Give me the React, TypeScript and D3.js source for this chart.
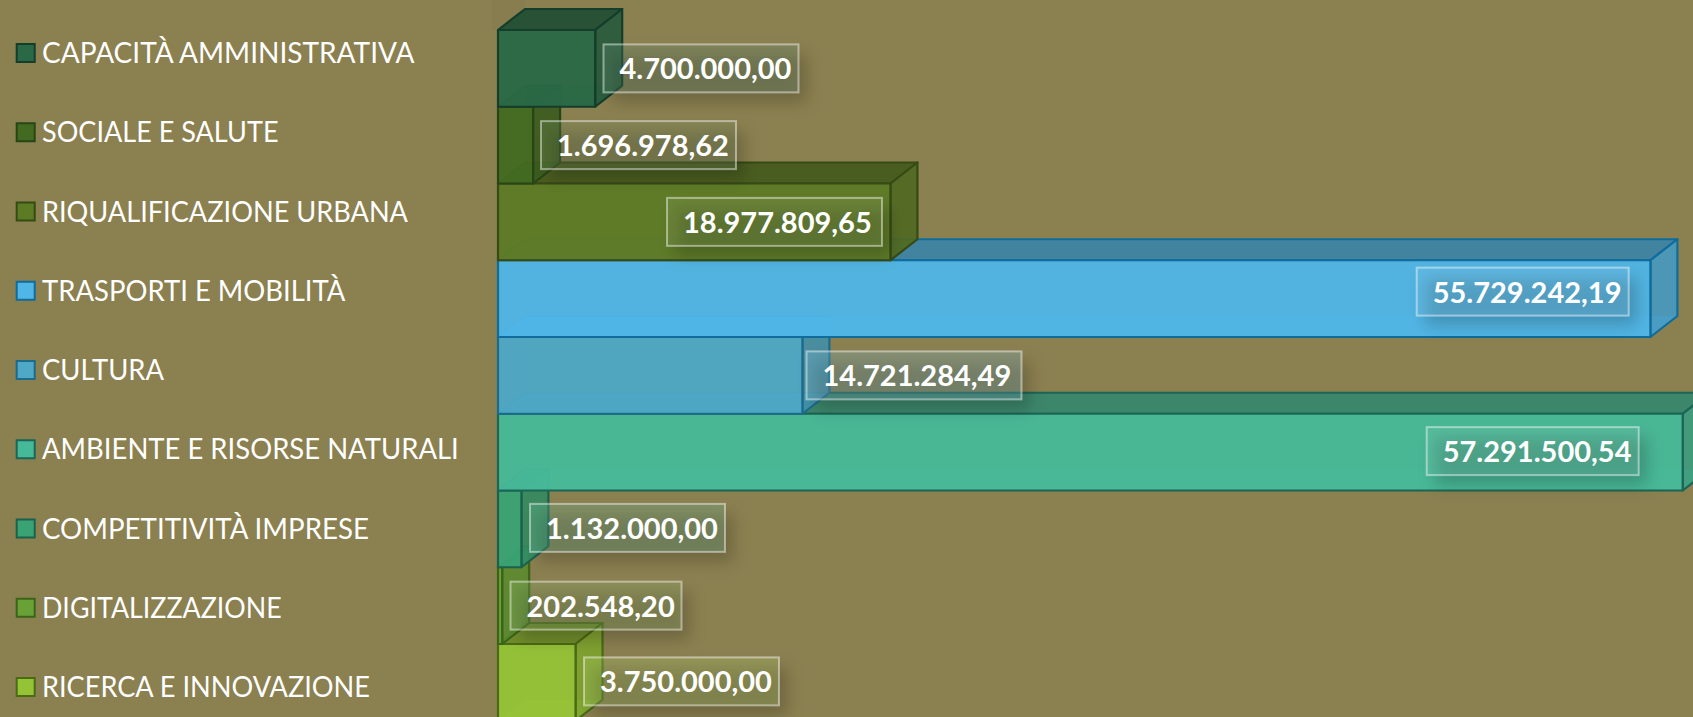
import React from "react";
import * as d3 from "d3";

const categories = ["CAPACITÀ AMMINISTRATIVA","SOCIALE E SALUTE","RIQUALIFICAZIONE URBANA","TRASPORTI E MOBILITÀ","CULTURA","AMBIENTE E RISORSE NATURALI","COMPETITIVITÀ IMPRESE","DIGITALIZZAZIONE","RICERCA E INNOVAZIONE"];
const values = [4700000.00,1696978.62,18977809.65,55729242.19,14721284.49,57291500.54,1132000.00,202548.20,3750000.00];
const valueLabels = ["4.700.000,00","1.696.978,62","18.977.809,65","55.729.242,19","14.721.284,49","57.291.500,54","1.132.000,00","202.548,20","3.750.000,00"];
const colors = ["#296945","#436a21","#5d7b25","#50b6e8","#4ea8c6","#46b998","#39a373","#69a136","#95c336"];
const edges = ["#143d2c","#284516","#364a14","#0f6c9c","#1c6b8c","#1b6656","#1b614c","#3a6419","#4a6a15"];
// manual label box placement and legend text widths
const labelLeft = [603.5,541,667,1416.7,806.5,1426.7,530,510.5,584];
const labelDy = [0,0,0,-7,0,-1,-1,0,-1];
const labelWidth = [195,195,215,212,215,212,195,171,195];
const legendWidth = [372.5,236.5,366,303.4,122,416.8,327,239.7,328];

const W = 1693, H = 717, DX = 27, DY = 21, BG = "#8b8050";
const x = d3.scaleLinear().domain([0, 57291500.54]).range([498, 1682.7]);
const y = d3.scaleBand<string>().domain(categories).range([30, 30 + 76.75 * 9]).padding(0);
const legendY = d3.scalePoint<string>().domain(categories).range([53, 687]);

const poly = (pts: number[][]) => (d3.line()(pts as [number, number][]) || "") + "Z";

function Bar({ i }: { i: number }) {
  const c = categories[i];
  const x0 = x(0), x1 = x(values[i]), y0 = y(c)!, y1 = y0 + y.bandwidth();
  const col = colors[i], edge = edges[i];
  const dark = d3.color(col)!.darker(0.9).formatHex();
  const mid = d3.color(col)!.darker(0.45).formatHex();
  const faces: [string, string, number][] = [
    [poly([[x0+DX,y0-DY],[x1+DX,y0-DY],[x1+DX,y1-DY],[x0+DX,y1-DY]]), dark, 0.2],
    [poly([[x0,y1],[x1,y1],[x1+DX,y1-DY],[x0+DX,y1-DY]]), col, 0.6],
    [poly([[x0,y0],[x0+DX,y0-DY],[x0+DX,y1-DY],[x0,y1]]), col, 0.2],
    [poly([[x0,y0],[x1,y0],[x1+DX,y0-DY],[x0+DX,y0-DY]]), dark, 0.88],
    [poly([[x1,y0],[x1+DX,y0-DY],[x1+DX,y1-DY],[x1,y1]]), mid, 0.85],
    [poly([[x0,y0],[x1,y0],[x1,y1],[x0,y1]]), col, 0.94],
  ];
  return (
    <g>
      {faces.map(([d, f, o], k) => (
        <path key={k} d={d} fill={f} fillOpacity={o} stroke={edge} strokeWidth={k < 3 ? 0 : 2.2} strokeLinejoin="round" />
      ))}
    </g>
  );
}

function Label({ i }: { i: number }) {
  const c = y(categories[i])! + y.bandwidth() / 2 + labelDy[i];
  const bx = labelLeft[i], bw = labelWidth[i], bh = 48, by = c - bh / 2;
  return (
    <g>
      <rect x={bx + 8} y={by + 10} width={bw} height={bh} fill="#000" fillOpacity={0.2} filter="url(#blur)" />
      <rect x={bx} y={by} width={bw} height={bh} fill={colors[i]} fillOpacity={0.2} />
      <rect x={bx} y={by} width={bw} height={bh} fill="#fff" fillOpacity={0.08} stroke="#fff" strokeOpacity={0.45} strokeWidth={2} />
      <text x={bx + 16} y={c + 11} fill="#fff" fontFamily="Lato" fontWeight={700} fontSize={29}>{valueLabels[i]}</text>
    </g>
  );
}

export default function App() {
  const order = d3.range(categories.length).reverse();
  return (
    <svg width={W} height={H} style={{ position: "absolute", left: 0, top: 0, display: "block" }}>
      <defs>
        <filter id="blur" x="-20%" y="-50%" width="140%" height="200%"><feGaussianBlur stdDeviation={8} /></filter>
      </defs>
      <rect width={W} height={H} fill={BG} />
      <path d={poly([[492,0],[525,0],[525,30],[492,30]])} fill="#000" fillOpacity={0.025} />
      {categories.map((c, i) => (
        <g key={c}>
          <rect x={16.7} y={legendY(c)! - 9} width={18} height={18} fill={colors[i]} stroke={edges[i]} strokeWidth={2} />
          <text x={42} y={legendY(c)! + 10} fill="#fff" fontFamily="Lato" fontSize={28} textLength={legendWidth[i]} lengthAdjust="spacingAndGlyphs">{c}</text>
        </g>
      ))}
      {order.map((i) => <Bar key={i} i={i} />)}
      {categories.map((_, i) => <Label key={i} i={i} />)}
    </svg>
  );
}
